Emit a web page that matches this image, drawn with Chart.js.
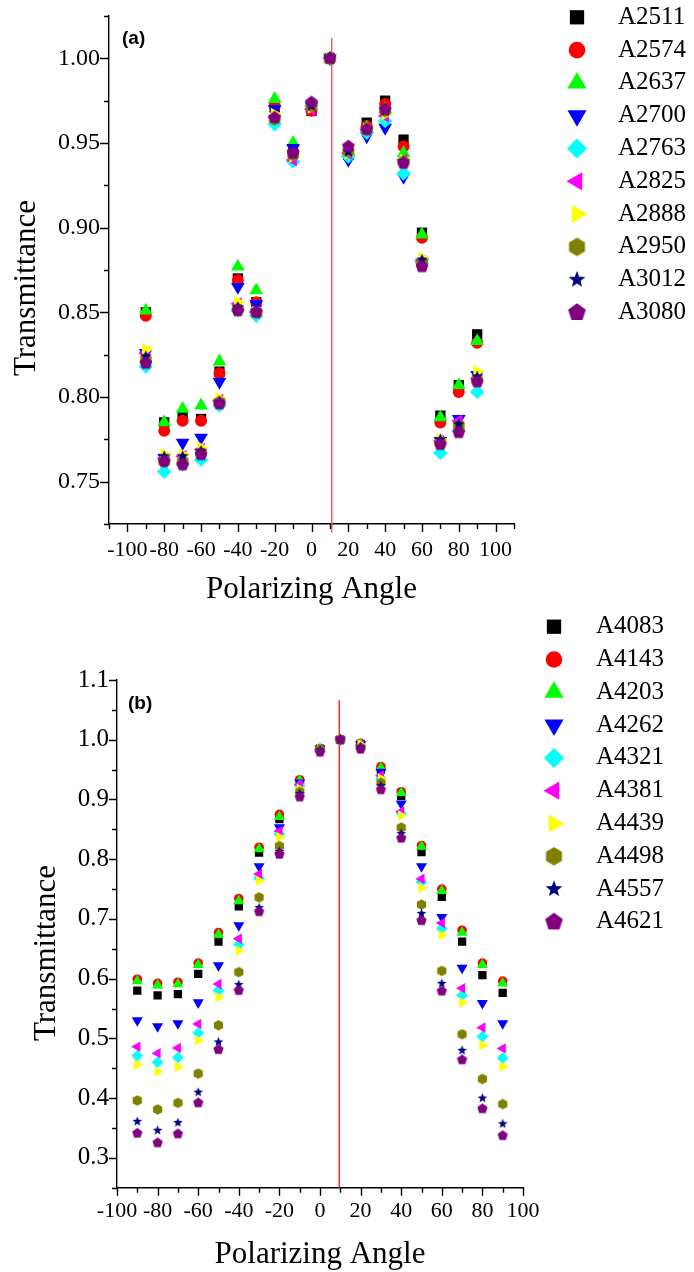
<!DOCTYPE html>
<html>
<head>
<meta charset="utf-8">
<title>Transmittance vs polarizing angle</title>
<script src="https://cdn.jsdelivr.net/npm/chart.js@4.4.1/dist/chart.umd.min.js"></script>
<style>
  html, body { margin: 0; padding: 0; background: #ffffff; }
  body { width: 694px; height: 1272px; position: relative; overflow: hidden; }
  canvas { position: absolute; left: 0; display: block; }
  #chartA { top: 0; }
  #chartB { top: 600px; }
</style>
</head>
<body>
<canvas id="chartA" width="694" height="625"></canvas>
<canvas id="chartB" width="694" height="672"></canvas>
<script>
// ---------- panel (a) ----------
const anglesA = [-90, -80, -70, -60, -50, -40, -30, -20, -10, 0, 10, 20, 30, 40, 50, 60, 70, 80, 90];
const namesA = ['A2511', 'A2574', 'A2637', 'A2700', 'A2763', 'A2825', 'A2888', 'A2950', 'A3012', 'A3080'];
const a2511 = [0.850, 0.785, 0.789, 0.787, 0.815, 0.870, 0.856, 0.971, 0.944, 0.969, 1.000, 0.943, 0.962, 0.975, 0.952, 0.897, 0.789, 0.807, 0.837];
const a2574 = [0.848, 0.780, 0.786, 0.786, 0.814, 0.869, 0.856, 0.972, 0.945, 0.969, 1.000, 0.944, 0.960, 0.973, 0.948, 0.894, 0.785, 0.803, 0.832];
const a2637 = [0.851, 0.785, 0.793, 0.795, 0.821, 0.877, 0.863, 0.976, 0.950, 0.972, 1.000, 0.945, 0.959, 0.970, 0.944, 0.896, 0.788, 0.807, 0.833];
const a2700 = [0.826, 0.764, 0.773, 0.776, 0.809, 0.865, 0.855, 0.970, 0.947, 0.972, 1.000, 0.940, 0.954, 0.959, 0.930, 0.879, 0.774, 0.787, 0.813];
const a2763 = [0.818, 0.756, 0.760, 0.763, 0.795, 0.851, 0.848, 0.961, 0.939, 0.972, 1.000, 0.942, 0.956, 0.963, 0.932, 0.879, 0.767, 0.780, 0.803];
const a2825 = [0.826, 0.764, 0.765, 0.769, 0.798, 0.855, 0.850, 0.965, 0.940, 0.970, 1.000, 0.944, 0.958, 0.966, 0.940, 0.880, 0.774, 0.786, 0.811];
const a2888 = [0.828, 0.766, 0.766, 0.770, 0.799, 0.856, 0.850, 0.967, 0.942, 0.971, 1.000, 0.944, 0.958, 0.967, 0.940, 0.882, 0.775, 0.782, 0.815];
const a2950 = [0.822, 0.762, 0.762, 0.767, 0.797, 0.852, 0.850, 0.964, 0.943, 0.972, 1.000, 0.945, 0.958, 0.969, 0.939, 0.879, 0.773, 0.783, 0.810];
const a3012 = [0.824, 0.765, 0.765, 0.768, 0.797, 0.853, 0.851, 0.965, 0.944, 0.972, 1.000, 0.945, 0.958, 0.969, 0.939, 0.881, 0.775, 0.784, 0.812];
const a3080 = [0.820, 0.762, 0.760, 0.766, 0.796, 0.851, 0.850, 0.965, 0.944, 0.974, 1.000, 0.948, 0.958, 0.970, 0.938, 0.877, 0.772, 0.779, 0.809];
const seriesA = [a2511, a2574, a2637, a2700, a2763, a2825, a2888, a2950, a3012, a3080];
const xTickValuesA = [-110, -100, -90, -80, -70, -60, -50, -40, -30, -20, -10, 0, 10, 20, 30, 40, 50, 60, 70, 80, 90, 100, 110];
const xTickLabelsA = ['-100', '-80', '-60', '-40', '-20', '0', '20', '40', '60', '80', '100'];
const yTickValuesA = [0.725, 0.75, 0.775, 0.8, 0.825, 0.85, 0.875, 0.9, 0.925, 0.95, 0.975, 1.0, 1.025];
const yTickLabelsA = ['0.75', '0.80', '0.85', '0.90', '0.95', '1.00'];
const guideA = [{ x: 11, y: 1.012 }, { x: 11, y: 0.72 }];

// ---------- panel (b) ----------
const anglesB = [-90, -80, -70, -60, -50, -40, -30, -20, -10, 0, 10, 20, 30, 40, 50, 60, 70, 80, 90];
const namesB = ['A4083', 'A4143', 'A4203', 'A4262', 'A4321', 'A4381', 'A4439', 'A4498', 'A4557', 'A4621'];
const a4083 = [0.580, 0.572, 0.574, 0.608, 0.662, 0.721, 0.811, 0.867, 0.928, 0.985, 1.000, 0.993, 0.950, 0.906, 0.812, 0.737, 0.662, 0.606, 0.576];
const a4143 = [0.599, 0.592, 0.594, 0.626, 0.677, 0.734, 0.820, 0.875, 0.933, 0.985, 1.000, 0.994, 0.955, 0.913, 0.823, 0.750, 0.681, 0.626, 0.596];
const a4203 = [0.596, 0.589, 0.591, 0.623, 0.674, 0.730, 0.817, 0.871, 0.932, 0.985, 1.000, 0.993, 0.953, 0.911, 0.821, 0.747, 0.677, 0.623, 0.592];
const a4262 = [0.530, 0.520, 0.525, 0.560, 0.622, 0.689, 0.788, 0.853, 0.928, 0.985, 1.000, 0.992, 0.946, 0.893, 0.788, 0.703, 0.618, 0.559, 0.525];
const a4321 = [0.471, 0.460, 0.468, 0.509, 0.580, 0.657, 0.768, 0.842, 0.923, 0.984, 1.000, 0.990, 0.936, 0.877, 0.762, 0.684, 0.572, 0.503, 0.467];
const a4381 = [0.486, 0.475, 0.484, 0.524, 0.591, 0.667, 0.775, 0.847, 0.925, 0.984, 1.000, 0.991, 0.940, 0.880, 0.767, 0.693, 0.584, 0.518, 0.483];
const a4439 = [0.456, 0.444, 0.452, 0.497, 0.569, 0.647, 0.764, 0.837, 0.918, 0.984, 1.000, 0.992, 0.935, 0.873, 0.752, 0.673, 0.560, 0.489, 0.453];
const a4498 = [0.396, 0.381, 0.392, 0.441, 0.522, 0.611, 0.736, 0.822, 0.913, 0.984, 1.000, 0.987, 0.928, 0.853, 0.724, 0.613, 0.507, 0.432, 0.390];
const a4557 = [0.361, 0.346, 0.359, 0.410, 0.494, 0.590, 0.719, 0.813, 0.910, 0.983, 1.000, 0.988, 0.923, 0.843, 0.709, 0.592, 0.480, 0.400, 0.357];
const a4621 = [0.341, 0.325, 0.340, 0.392, 0.481, 0.580, 0.712, 0.808, 0.904, 0.979, 1.000, 0.984, 0.916, 0.835, 0.697, 0.579, 0.464, 0.382, 0.337];
const seriesB = [a4083, a4143, a4203, a4262, a4321, a4381, a4439, a4498, a4557, a4621];
const xTickValuesB = [-100, -90, -80, -70, -60, -50, -40, -30, -20, -10, 0, 10, 20, 30, 40, 50, 60, 70, 80, 90, 100];
const xTickLabelsB = ['-100', '-80', '-60', '-40', '-20', '0', '20', '40', '60', '80', '100'];
const yTickValuesB = [0.25, 0.3, 0.35, 0.4, 0.45, 0.5, 0.55, 0.6, 0.65, 0.7, 0.75, 0.8, 0.85, 0.9, 0.95, 1.0, 1.05, 1.1];
const yTickLabelsB = ['0.3', '0.4', '0.5', '0.6', '0.7', '0.8', '0.9', '1.0', '1.1'];
const guideB = [{ x: 9.5, y: 1.066 }, { x: 9.5, y: 0.25 }];

// ---------- shared styling ----------
const SERIF = "'Liberation Serif', 'Times New Roman', Times, serif";
const SANS = "'Liberation Sans', Arial, Helvetica, sans-serif";
const COLORS = ['#000000', '#ff0000', '#00ff00', '#0000ff', '#00ffff', '#ff00ff', '#ffff00', '#808000', '#000080', '#800080'];
const SHAPES = ['rect', 'circle', 'triangle', 'triangleDown', 'rectRot', 'triangleLeft', 'triangleRight', 'hexagon', 'star', 'pentagon'];
// size of each marker at legend scale (radius for built-in styles, circumradius for drawn polygons)
const BASE_SIZE = { rect: 10.1, circle: 8.3, triangle: 11, triangleDown: 11, rectRot: 10, triangleLeft: 10.5, triangleRight: 10.5, hexagon: 9.2, star: 8.8, pentagon: 9.3 };

Chart.defaults.font.family = SERIF;
Chart.defaults.color = '#000000';

function polygonCanvas(kind, R, color) {
  const dim = Math.ceil(2 * R) + 2;
  const c = document.createElement('canvas');
  c.width = dim; c.height = dim;
  const g = c.getContext('2d');
  const cx = dim / 2, cy = dim / 2;
  const pts = [];
  if (kind === 'hexagon') {
    for (let i = 0; i < 6; i++) { const a = -Math.PI / 2 + i * Math.PI / 3; pts.push([cx + R * Math.cos(a), cy + R * Math.sin(a)]); }
  } else if (kind === 'pentagon') {
    for (let i = 0; i < 5; i++) { const a = -Math.PI / 2 + i * 2 * Math.PI / 5; pts.push([cx + R * Math.cos(a), cy + R * Math.sin(a)]); }
  } else {
    for (let i = 0; i < 10; i++) { const a = -Math.PI / 2 + i * Math.PI / 5; const r = i % 2 ? R * 0.42 : R; pts.push([cx + r * Math.cos(a), cy + r * Math.sin(a)]); }
  }
  g.fillStyle = color;
  g.beginPath();
  pts.forEach((p, i) => (i ? g.lineTo(p[0], p[1]) : g.moveTo(p[0], p[1])));
  g.closePath();
  g.fill();
  return c;
}

function markerFor(i, scale) {
  const shape = SHAPES[i];
  const size = BASE_SIZE[shape] * scale;
  switch (shape) {
    case 'triangleDown': return { style: 'triangle', rotation: 180, radius: size };
    case 'triangleLeft': return { style: 'triangle', rotation: -90, radius: size };
    case 'triangleRight': return { style: 'triangle', rotation: 90, radius: size };
    case 'hexagon': case 'star': case 'pentagon':
      return { style: polygonCanvas(shape, size, COLORS[i]), rotation: 0, radius: size };
    default: return { style: shape, rotation: 0, radius: size };
  }
}

function buildDatasets(names, series, angles, scale, guide, guideColor) {
  const sets = names.map((name, i) => {
    const m = markerFor(i, scale);
    return {
      label: name,
      data: angles.map((a, k) => ({ x: a, y: series[i][k] })),
      backgroundColor: COLORS[i],
      borderColor: COLORS[i],
      borderWidth: 0,
      pointStyle: m.style,
      pointRotation: m.rotation,
      pointRadius: m.radius,
      pointHoverRadius: m.radius,
      pointBorderWidth: 0,
      order: names.length - i
    };
  });
  sets.push({
    label: 'peak',
    isGuide: true,
    data: guide,
    showLine: true,
    borderColor: guideColor,
    borderWidth: 1.4,
    pointRadius: 0,
    clip: false,
    order: 100
  });
  return sets;
}

// tick marks (long for labelled, short for unlabelled), rotated y title, panel tag and legend
const decorPlugin = {
  id: 'decor',
  afterDraw(chart, args, o) {
    const ctx = chart.ctx;
    const xs = chart.scales.x, ys = chart.scales.y;
    ctx.save();
    ctx.strokeStyle = '#000000';
    ctx.lineWidth = 1.4;
    ctx.beginPath();
    xs.ticks.forEach(t => {
      const px = Math.round(xs.getPixelForValue(t.value)) + 0.5;
      const len = t.label ? o.xMajor : o.xMinor;
      ctx.moveTo(px, xs.top); ctx.lineTo(px, xs.top + len);
    });
    ys.ticks.forEach(t => {
      const py = Math.round(ys.getPixelForValue(t.value)) + 0.5;
      const len = t.label ? o.yMajor : o.yMinor;
      ctx.moveTo(ys.right - len, py); ctx.lineTo(ys.right, py);
    });
    ctx.stroke();

    // y axis title
    ctx.save();
    ctx.translate(o.yTitle.x, o.yTitle.y);
    ctx.rotate(-Math.PI / 2);
    ctx.font = '31px ' + SERIF;
    ctx.fillStyle = '#000000';
    ctx.textAlign = 'center';
    ctx.textBaseline = 'alphabetic';
    ctx.fillText(o.yTitle.text, 0, 0);
    ctx.restore();

    // panel tag
    ctx.font = 'bold 19px ' + SANS;
    ctx.fillStyle = '#000000';
    ctx.textAlign = 'left';
    ctx.textBaseline = 'middle';
    ctx.fillText(o.tag.text, o.tag.x, o.tag.y);

    // legend
    const L = o.legend;
    let row = 0;
    chart.data.datasets.forEach((ds, i) => {
      if (ds.isGuide) return;
      const y = L.y0 + row * L.dy;
      const m = markerFor(i, 1);
      ctx.fillStyle = COLORS[i];
      Chart.helpers.drawPoint(ctx, { pointStyle: m.style, rotation: m.rotation, radius: m.radius, borderWidth: 0 }, L.mx, y);
      ctx.fillStyle = '#000000';
      ctx.font = '25px ' + SERIF;
      ctx.textAlign = 'left';
      ctx.textBaseline = 'middle';
      ctx.fillText(ds.label, L.tx, y);
      row++;
    });
    ctx.restore();
  }
};

function makeChart(id, cfg) {
  const labelOf = (vals, labels) => v => {
    const s = labels.find(l => Math.abs(parseFloat(l) - v) < 1e-9);
    return s === undefined ? '' : s;
  };
  return new Chart(document.getElementById(id), {
    type: 'scatter',
    data: { datasets: cfg.datasets },
    plugins: [decorPlugin],
    options: {
      responsive: false,
      animation: false,
      devicePixelRatio: 1,
      events: [],
      layout: { padding: cfg.padding },
      plugins: {
        legend: { display: false },
        tooltip: { enabled: false },
        decor: cfg.decor
      },
      scales: {
        x: {
          type: 'linear',
          min: cfg.xMin, max: cfg.xMax,
          afterBuildTicks: s => { s.ticks = cfg.xTicks.map(v => ({ value: v })); },
          afterFit: s => { s.height = cfg.xHeight; },
          ticks: {
            autoSkip: false, maxRotation: 0, minRotation: 0,
            padding: cfg.xTickPad,
            color: '#000000',
            font: { family: SERIF, size: 22 },
            callback: labelOf(cfg.xTicks, cfg.xLabels)
          },
          grid: { display: false, drawTicks: true, tickLength: 8 },
          border: { display: true, color: '#000000', width: 1.4 },
          title: {
            display: true, text: 'Polarizing Angle', color: '#000000',
            font: { family: SERIF, size: 31, lineHeight: 1 },
            padding: { top: 0, bottom: cfg.xTitlePad }
          }
        },
        y: {
          type: 'linear',
          min: cfg.yMin, max: cfg.yMax,
          afterBuildTicks: s => { s.ticks = cfg.yTicks.map(v => ({ value: v })); },
          afterFit: s => { s.width = cfg.yWidth; },
          ticks: {
            autoSkip: false,
            padding: 0,
            color: '#000000',
            font: { family: SERIF, size: cfg.yFont },
            callback: labelOf(cfg.yTicks, cfg.yLabels)
          },
          grid: { display: false, drawTicks: true, tickLength: cfg.yTickLen },
          border: { display: true, color: '#000000', width: 1.4 }
        }
      }
    }
  });
}

makeChart('chartA', {
  datasets: buildDatasets(namesA, seriesA, anglesA, 0.72, guideA, '#f25555'),
  padding: { top: 16, right: 180, bottom: 0, left: 0 },
  xMin: -110, xMax: 110, xTicks: xTickValuesA, xLabels: xTickLabelsA,
  yMin: 0.725, yMax: 1.025, yTicks: yTickValuesA, yLabels: yTickLabelsA,
  xHeight: 101, yWidth: 109, xTickPad: 4.8, xTitlePad: 19.5, yFont: 24, yTickLen: 9,
  decor: {
    xMajor: 8, xMinor: 5, yMajor: 9, yMinor: 5,
    yTitle: { text: 'Transmittance', x: 35, y: 288 },
    tag: { text: '(a)', x: 122, y: 39 },
    legend: { mx: 577, tx: 618, y0: 17.3, dy: 32.8 }
  }
});

makeChart('chartB', {
  datasets: buildDatasets(namesB, seriesB, anglesB, 0.58, guideB, '#ff2020'),
  padding: { top: 80, right: 171, bottom: 0, left: 0 },
  xMin: -100, xMax: 100, xTicks: xTickValuesB, xLabels: xTickLabelsB,
  yMin: 0.25, yMax: 1.1, yTicks: yTickValuesB, yLabels: yTickLabelsB,
  xHeight: 84.3, yWidth: 117, xTickPad: 1.9, xTitlePad: 1.9, yFont: 25, yTickLen: 8,
  decor: {
    xMajor: 8, xMinor: 5, yMajor: 8, yMinor: 5,
    yTitle: { text: 'Transmittance', x: 55, y: 353 },
    tag: { text: '(b)', x: 128, y: 103.6 },
    legend: { mx: 554, tx: 596, y0: 26.7, dy: 32.8 }
  }
});
</script>
</body>
</html>
